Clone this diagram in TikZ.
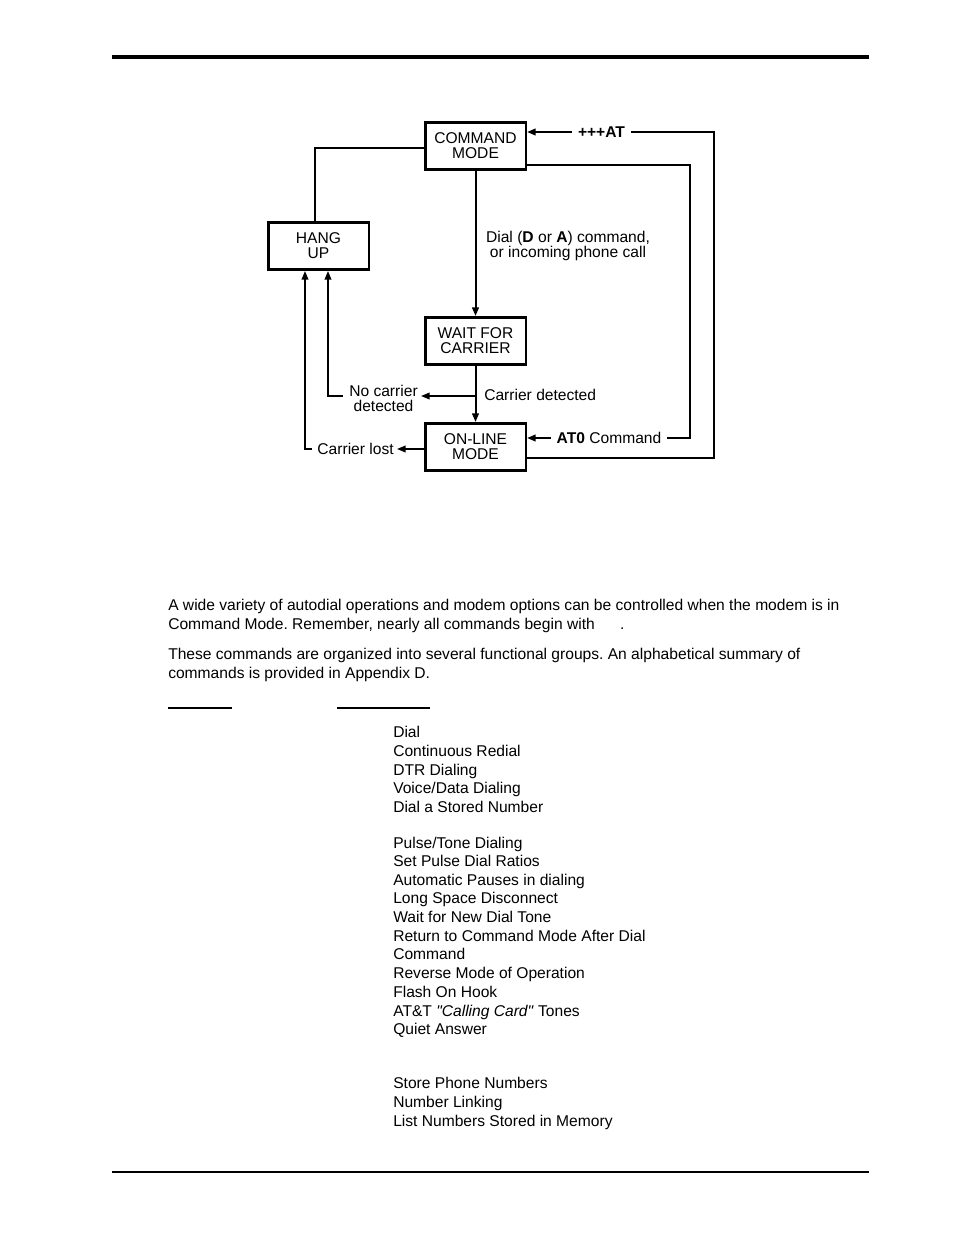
\documentclass[tikz,border=0pt]{standalone}
\usepackage{fontspec}
\setmainfont{Liberation Sans}
\usetikzlibrary{arrows.meta,calc}
\frenchspacing
\begin{document}
\begin{tikzpicture}[x=0.75pt,y=-0.75pt,
  every node/.style={font=\fontsize{11.7pt}{11.25pt}\selectfont, inner sep=0pt},
  box/.style={draw, line width=1.9pt, minimum width=75.4pt, minimum height=35.6pt, align=center},
  conn/.style={line width=1.5pt},
  thin/.style={line width=1.2pt},
  arr/.style={conn, -{Triangle[length=6.5pt,width=5pt]}},
  tarr/.style={thin, -{Triangle[length=6.5pt,width=5pt]}},
  lab/.style={align=center},
  onl/.style={fill=white, inner xsep=4.5pt, inner ysep=1pt},
  body/.style={anchor=base west, font=\fontsize{11.7pt}{14pt}\selectfont}]
\useasboundingbox (0,0) rectangle (954,1235);

% page rules
\draw[line width=2.3pt] (112,57) -- (869,57);
\draw[line width=1.2pt] (112,1172) -- (869,1172);

% boxes
\node[box] (cmd) at (475.5,146) {COMMAND\\MODE};
\node[box] (hang) at (318.5,246) {HANG\\UP};
\node[box] (wait) at (475.5,341) {WAIT FOR\\CARRIER};
\node[box] (onl) at (475.5,447) {ON-LINE\\MODE};

% coordinates for routing
\coordinate (rx) at (714,300);
\coordinate (ax) at (690,300);
\coordinate (br) at (476,396);

% command -> hang up
\draw[conn] ($(cmd.west)+(0,2)$) -| ($(hang.north)+(-3.5,0)$);
% command -> wait
\draw[arr] (cmd.south) -- (wait.north);
\node[lab, anchor=center] (dial) at (568,246) {Dial (\textbf{D} or \textbf{A}) command,\\or incoming phone call};
% wait -> online
\draw[arr] (wait.south) -- (onl.north);
\node[anchor=base west] (cdet) at (484,400) {Carrier detected};

% no carrier
\node[lab] (nocar) at (383.5,398) {No carrier\\detected};
\draw[tarr] (br) -- ($(nocar.east |- br)+(3,0)$);
\draw[tarr] ($(nocar.west |- br)+(-6,0)$) -| ($(hang.south)+(9.5,0)$);

% carrier lost
\node[anchor=east] (lost) at (394,449) {Carrier lost};
\draw[tarr] ($(onl.west)+(0,2)$) -- ($(lost.east |- 0,449)+(3,0)$);
\draw[tarr] ($(lost.west |- 0,449)+(-5,0)$) -| ($(hang.south)+(-13.5,0)$);

% +++AT
\draw[arr] ($(onl.east)+(0,11)$) -| (rx) |- ($(cmd.east)+(0,-14)$);
\node[onl, font=\fontsize{11.7pt}{11.25pt}\selectfont\bfseries] (ppat) at (601.5,132) {+++AT};

% AT0 Command
\draw[arr] ($(cmd.east)+(0,19)$) -| (ax) |- ($(onl.east)+(0,-9)$);
\node[onl] (at0) at (609,438) {\textbf{AT0} Command};

% body text
\node[body] (p1) at (168,610.5) {A wide variety of autodial operations and modem options can be controlled when the modem is in};
\node[body] (p2) at (168,629.5) {Command Mode. Remember, nearly all commands begin with\hspace{19pt}.};
\node[body] (p3) at (168,659.5) {These commands are organized into several functional groups. An alphabetical summary of};
\node[body] (p4) at (168,678.5) {commands is provided in Appendix D.};

\draw[line width=1.1pt] (168,708) -- (232,708);
\draw[line width=1.1pt] (337,708) -- (430,708);

% list
\node[body] (l1) at (393,737.5) {Dial};
\node[body] (l2) at (393,756.5) {Continuous Redial};
\node[body] (l3) at (393,775.5) {DTR Dialing};
\node[body] (l4) at (393,793.5) {Voice/Data Dialing};
\node[body] (l5) at (393,812.5) {Dial a Stored Number};
\node[body] (l6) at (393,848.5) {Pulse/Tone Dialing};
\node[body] (l7) at (393,866.5) {Set Pulse Dial Ratios};
\node[body] (l8) at (393,885.5) {Automatic Pauses in dialing};
\node[body] (l9) at (393,903.5) {Long Space Disconnect};
\node[body] (l10) at (393,922.5) {Wait for New Dial Tone};
\node[body] (l11) at (393,941.5) {Return to Command Mode After Dial};
\node[body] (l12) at (393,959.5) {Command};
\node[body] (l13) at (393,978.5) {Reverse Mode of Operation};
\node[body] (l14) at (393,997.5) {Flash On Hook};
\node[body] (l15) at (393,1016.5) {AT\&T \textit{\textquotedbl Calling Card\textquotedbl} Tones};
\node[body] (l16) at (393,1034.5) {Quiet Answer};
\node[body] (l17) at (393,1088.5) {Store Phone Numbers};
\node[body] (l18) at (393,1107.5) {Number Linking};
\node[body] (l19) at (393,1126.5) {List Numbers Stored in Memory};
\end{tikzpicture}
\end{document}
